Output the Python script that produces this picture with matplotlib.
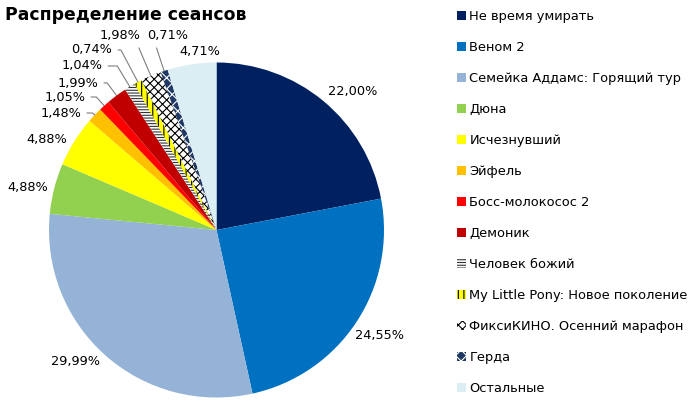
import matplotlib
matplotlib.use("Agg")
import matplotlib.pyplot as plt
from matplotlib.patches import Patch
import numpy as np

plt.rcParams["font.family"] = ["DejaVu Sans"]
plt.rcParams["hatch.linewidth"] = 0.8

FILMS = [
    "Не время умирать",
    "Веном 2",
    "Семейка Аддамс: Горящий тур",
    "Дюна",
    "Исчезнувший",
    "Эйфель",
    "Босс-молокосос 2",
    "Демоник",
    "Человек божий",
    "My Little Pony: Новое поколение",
    "ФиксиКИНО. Осенний марафон",
    "Герда",
    "Остальные",
]
SHARES = [22.00, 24.55, 29.99, 4.88, 4.88, 1.48, 1.05, 1.99, 1.04, 0.74, 1.98, 0.71, 4.71]

# face colour, hatch colour, hatch
STYLES = [
    ("#002060", None, None),
    ("#0070C0", None, None),
    ("#95B3D7", None, None),
    ("#92D050", None, None),
    ("#FFFF00", None, None),
    ("#FFC000", None, None),
    ("#FF0000", None, None),
    ("#C00000", None, None),
    ("#FFFFFF", "#333333", "------"),
    ("#FFFF00", "#000000", "|||"),
    ("#FFFFFF", "#000000", "xxxx"),
    ("#1F3864", "#FFFFFF", "xxx"),
    ("#DAEEF3", None, None),
]

# label centres in pixels, and whether a leader line is drawn
LABEL_PX = [
    (353, 92), (380, 336), (75, 362), (28, 187), (47, 140),
    (61, 113), (65, 97), (78, 83), (82, 66), (92, 50),
    (120, 36), (168, 36), (200, 52),
]
LEADER = [False, False, False, False, False,
          True, True, True, True, True, True, True, False]

CX, CY, R = 216.5, 230.0, 167.5
W, H = 700, 405

fig = plt.figure(figsize=(7, 4.05), dpi=100)
ax = fig.add_axes([(CX - R) / W, (H - CY - R) / H, 2 * R / W, 2 * R / H])

wedges, _ = ax.pie(SHARES, startangle=90, counterclock=False, radius=1.0,
                   wedgeprops=dict(linewidth=0))
for w, (fc, hc, hatch) in zip(wedges, STYLES):
    w.set_facecolor(fc)
    if hatch:
        w.set_hatch(hatch)
        w.set_edgecolor(hc)
        w.set_linewidth(0)
ax.set_xlim(-1, 1)
ax.set_ylim(-1, 1)
ax.set_aspect("equal")
ax.axis("off")

for w, val, (px, py), lead in zip(wedges, SHARES, LABEL_PX, LEADER):
    txt = f"{val:.2f}%".replace(".", ",")
    tx = (px - CX) / R
    ty = (CY - py) / R
    if lead:
        mid = np.deg2rad((w.theta1 + w.theta2) / 2)
        pt = (np.cos(mid), np.sin(mid))
        ax.annotate(txt, xy=pt, xytext=(tx, ty), ha="center", va="center",
                    fontsize=9.3, annotation_clip=False,
                    arrowprops=dict(arrowstyle="-", color="#7f7f7f", lw=0.8,
                                    shrinkA=2, shrinkB=0,
                                    connectionstyle=f"angle,angleA=0,angleB={np.rad2deg(mid):.1f},rad=0"))
    else:
        ax.text(tx, ty, txt, ha="center", va="center", fontsize=9.3, clip_on=False)

fig.text(5 / W, 1 - 15 / H, "Распределение сеансов", fontsize=12.4, fontweight="bold",
         ha="left", va="center")

handles = []
for (fc, hc, hatch) in STYLES:
    if hatch:
        handles.append(Patch(facecolor=fc, edgecolor=hc, hatch=hatch, linewidth=0))
    else:
        handles.append(Patch(facecolor=fc, linewidth=0))
fig.legend(handles, FILMS, loc="upper left", bbox_to_anchor=(457 / W, 1 - 10 / H),
           frameon=False, fontsize=9.4, handlelength=0.7, handleheight=0.7,
           handletextpad=0.25, labelspacing=1.38, borderaxespad=0, borderpad=0)

fig.savefig("out.png", dpi=100)
